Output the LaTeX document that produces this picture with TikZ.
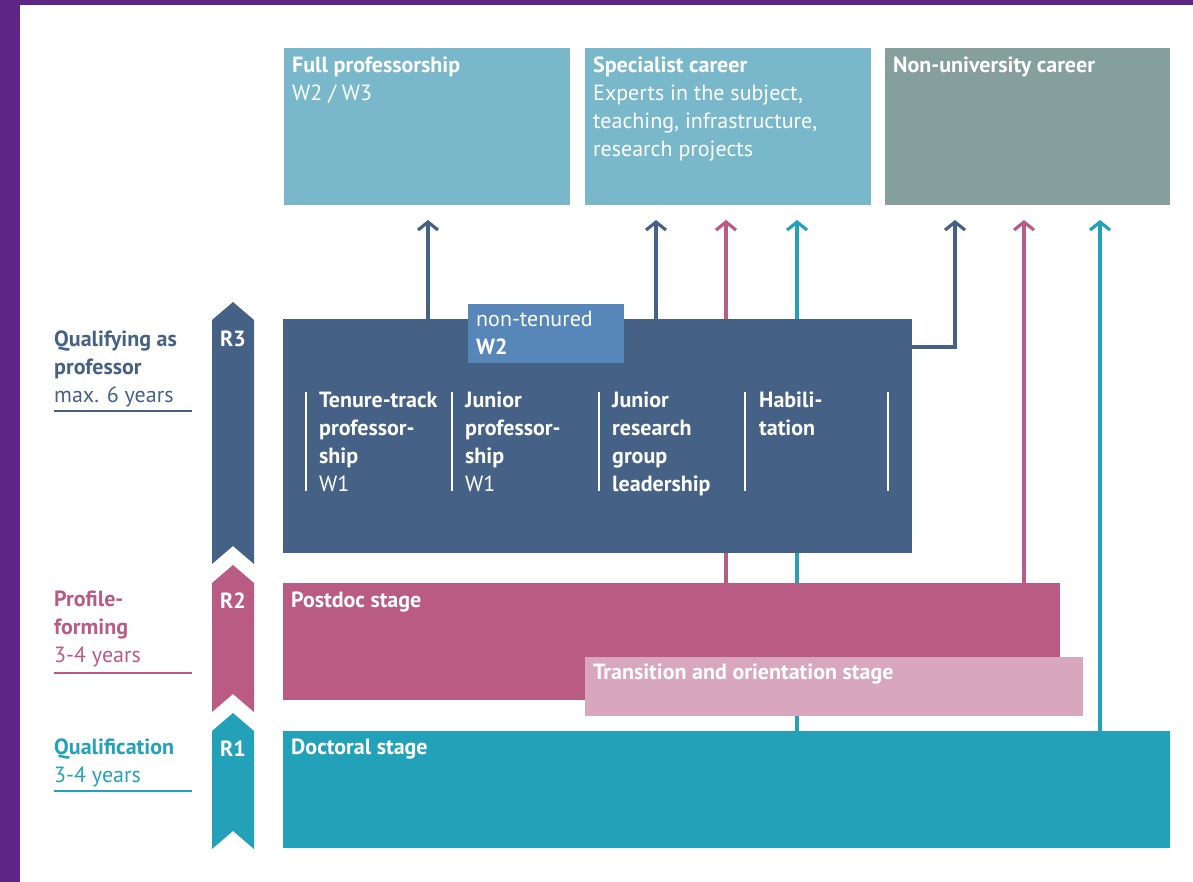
\documentclass[tikz,border=0pt]{standalone}
\usepackage{fontspec}
\setmainfont{PT Sans}
\usetikzlibrary{arrows.meta,backgrounds}
\definecolor{profblue}{HTML}{456185}
\definecolor{wtwo}{HTML}{5786B8}
\definecolor{careerblue}{HTML}{78B8CA}
\definecolor{careergray}{HTML}{859F9D}
\definecolor{postdoc}{HTML}{B95B83}
\definecolor{transpink}{HTML}{D8A6BD}
\definecolor{doctoral}{HTML}{23A1B8}
\definecolor{frame}{HTML}{5E2585}
\newcommand{\lbl}{\fontsize{22}{28}\selectfont}

\begin{document}
\begin{tikzpicture}[x=1pt,y=-1pt,
  blk/.style={anchor=north west,inner sep=0pt,outer sep=0pt},
  txt/.style={anchor=north west,inner sep=0pt,align=left,text=white,font=\lbl},
  side/.style={anchor=north west,inner sep=0pt,align=left,font=\lbl},
  rlab/.style={inner sep=0pt,text=white,font=\lbl\bfseries},
  arr/.style={-{Straight Barb[length=8pt,width=20pt]},line width=3.2pt,shorten >=15pt},
  sep/.style={white,line width=1.6pt}]
\useasboundingbox (0,0) rectangle (1193,882);
\fill[frame] (0,0) rectangle (20,882);
\fill[frame] (0,0) rectangle (1193,5);

% career boxes
\node[blk,fill=careerblue,minimum width=286pt,minimum height=157pt] (full) at (284,48) {};
\node[blk,fill=careerblue,minimum width=286pt,minimum height=157pt] (spec) at (585,48) {};
\node[blk,fill=careergray,minimum width=285pt,minimum height=157pt] (nonuni) at (885,48) {};
\node[txt] (fullt) at ([xshift=8pt,yshift=-9pt]full.north west) {\textbf{Full professorship}\\W2 / W3};
\node[txt] (spect) at ([xshift=8pt,yshift=-9pt]spec.north west) {\textbf{Specialist career}\\Experts in the subject,\\teaching, infrastructure,\\research projects};
\node[txt] (nonunit) at ([xshift=8pt,yshift=-9pt]nonuni.north west) {\textbf{Non-university career}};

% stages
\node[blk,fill=profblue,minimum width=629pt,minimum height=234pt] (prof) at (283,319) {};
\node[blk,fill=wtwo,minimum width=156pt,minimum height=59pt] (wtwo) at (468,304) {};
\node[txt] (wtwot) at ([xshift=8pt,yshift=-7pt]wtwo.north west) {non-tenured\\\textbf{W2}};
\node[blk,fill=postdoc,minimum width=777pt,minimum height=117pt] (post) at (283,583) {};
\node[blk,fill=transpink,minimum width=498pt,minimum height=59pt] (trans) at (585,657) {};
\node[blk,fill=doctoral,minimum width=887pt,minimum height=117pt] (doc) at (283,731) {};
\node[txt] (postt) at ([xshift=8pt,yshift=-9pt]post.north west) {\textbf{Postdoc stage}};
\node[txt] (transt) at ([xshift=8pt,yshift=-7pt]trans.north west) {\textbf{Transition and orientation stage}};
\node[txt] (doct) at ([xshift=8pt,yshift=-8pt]doc.north west) {\textbf{Doctoral stage}};

% R3 paths
\node[txt] (tt) at (319,392) {\textbf{Tenure-track}\\\textbf{professor-}\\\textbf{ship}\\W1};
\node[txt] (jp) at (465,392) {\textbf{Junior}\\\textbf{professor-}\\\textbf{ship}\\W1};
\node[txt] (jr) at (612,392) {\textbf{Junior}\\\textbf{research}\\\textbf{group}\\\textbf{leadership}};
\node[txt] (hab) at (759,392) {\textbf{Habili-}\\\textbf{tation}};
\foreach \x in {306,452,599,745,888}
  \draw[sep] (\x,392) -- (\x,491);

% phases on the left
\fill[profblue] (212,320) -- (233,302) -- (254,320) -- (254,564) -- (233,546) -- (212,564) -- cycle;
\fill[postdoc] (212,583) -- (233,565) -- (254,583) -- (254,712) -- (233,694) -- (212,712) -- cycle;
\fill[doctoral] (212,731) -- (233,713) -- (254,731) -- (254,849) -- (233,831) -- (212,849) -- cycle;
\node[rlab] (r3) at (233,339) {R3};
\node[rlab] (r2) at (233,601) {R2};
\node[rlab] (r1) at (233,749) {R1};
\node[side,text=profblue] (q3) at (54,331) {\textbf{Qualifying as}\\\textbf{professor}\\max. 6 years};
\node[side,text=postdoc] (q2) at (54,591) {\textbf{Profile-}\\\textbf{forming}\\3-4 years};
\node[side,text=doctoral] (q1) at (54,739) {\textbf{Qualification}\\3-4 years};
\draw[profblue,line width=1.6pt] (54,411) -- (192,411);
\draw[postdoc,line width=1.6pt] (54,673) -- (192,673);
\draw[doctoral,line width=1.6pt] (54,791) -- (192,791);

% career arrows
\coordinate (a1) at (428,0);
\coordinate (a2) at (656,0);
\coordinate (a3) at (726,0);
\coordinate (a4) at (797,0);
\coordinate (a5) at (955,0);
\coordinate (a6) at (1024,0);
\coordinate (a7) at (1100,0);
\begin{scope}[on background layer]
\draw[arr,profblue] (prof.north -| a1) -- (full.south -| a1);
\draw[arr,profblue] (prof.north -| a2) -- (spec.south -| a2);
\draw[arr,postdoc] (post.north -| a3) -- (spec.south -| a3);
\draw[arr,doctoral] (doc.north -| a4) -- (spec.south -| a4);
\draw[arr,profblue] ([yshift=-28pt]prof.north east) -| (nonuni.south -| a5);
\draw[arr,postdoc] (post.north -| a6) -- (nonuni.south -| a6);
\draw[arr,doctoral] (doc.north -| a7) -- (nonuni.south -| a7);
\end{scope}
\end{tikzpicture}
\end{document}
